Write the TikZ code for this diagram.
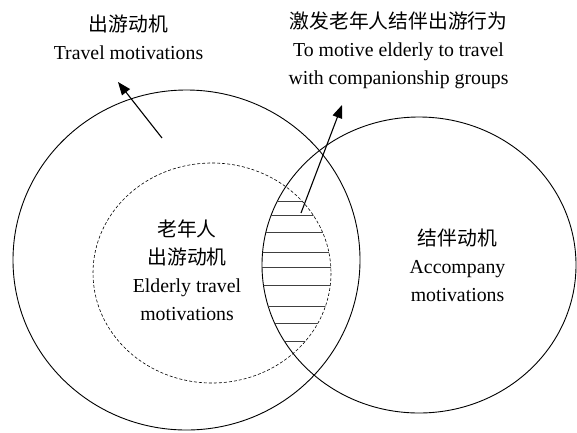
\documentclass[tikz,border=0pt]{standalone}
\usepackage{fontspec}
\setmainfont{Liberation Serif}
\newfontfamily\cjk{Noto Sans CJK SC}
\usetikzlibrary{arrows.meta}

\begin{document}
\begin{tikzpicture}[x=1pt, y=-1pt,
	lbl/.style = {align=center, inner sep=0pt, font=\fontsize{19.8}{28}\selectfont},
	ring/.style = {line width=0.9pt},
	hatch/.style = {line width=0.8pt, black!75},
	arr/.style = {line width=1.1pt, -{Triangle[length=13pt, width=10pt]}}]
	\useasboundingbox (0,0) rectangle (577,432);

	% the three sets
	\draw [ring] (186.5,260) circle [x radius=173.5, y radius=170];
	\draw [ring] (419,265) circle [x radius=157, y radius=148];
	\draw [line width=0.6pt, dash pattern=on 3pt off 2pt] (212,273) circle [x radius=119, y radius=110];

	% hatched overlap
	\begin{scope}
		\clip (419,265) circle [x radius=157, y radius=148];
		\clip (212,273) circle [x radius=119, y radius=110];
		\foreach \y in {201.7, 215, 232.7, 252, 267.7, 285.5, 306.7, 323.5, 341}
			\draw [hatch] (250,\y) -- (340,\y);
	\end{scope}

	% labels
	\node [lbl] (travel) at (128.5,37.5) {{\cjk 出游动机}\\Travel motivations};
	\node [lbl] (motive) at (398.5,50.5) {{\cjk 激发老年人结伴出游行为}\\To motive elderly to travel\\with companionship groups};
	\node [lbl] (elderly) at (187,270) {{\cjk 老年人}\\{\cjk 出游动机}\\Elderly travel\\motivations};
	\node [lbl] (accomp) at (457.5,265) {{\cjk 结伴动机}\\Accompany\\motivations};

	% arrows
	\coordinate (travelfoot) at (162,138);
	\coordinate (traveltip) at (118,82);
	\coordinate (motivefoot) at (301,213);
	\coordinate (motivetip) at (342,105);
	\draw [arr] (travelfoot) -- (traveltip);
	\draw [arr] (motivefoot) -- (motivetip);
\end{tikzpicture}
\end{document}
